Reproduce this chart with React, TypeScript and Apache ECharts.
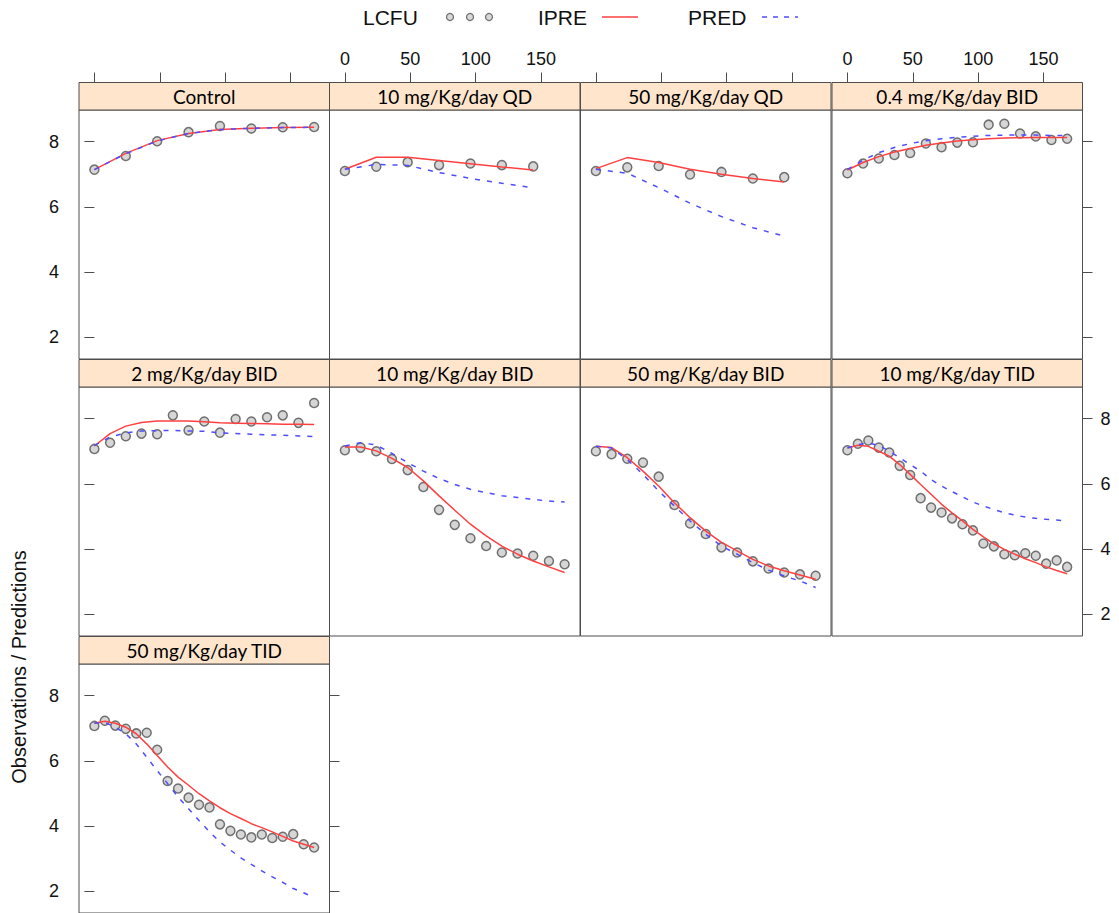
import React, { useEffect, useRef } from "react";
import * as echarts from "echarts";

// ---- data ----
const panelTitles = [
  "Control",
  "10 mg/Kg/day QD",
  "50 mg/Kg/day QD",
  "0.4 mg/Kg/day BID",
  "2 mg/Kg/day BID",
  "10 mg/Kg/day BID",
  "50 mg/Kg/day BID",
  "10 mg/Kg/day TID",
  "50 mg/Kg/day TID",
];

const timeDaily8 = [0, 24, 48, 72, 96, 120, 144, 168];
const timeDaily7 = [0, 24, 48, 72, 96, 120, 144];
const timeBID = [0, 12, 24, 36, 48, 60, 72, 84, 96, 108, 120, 132, 144, 156, 168];
const timeTID = [0, 8, 16, 24, 32, 40, 48, 56, 64, 72, 80, 88, 96, 104, 112, 120, 128, 136, 144, 152, 160, 168];

const xTicks = [0, 50, 100, 150];
const yTicks = [2, 4, 6, 8];

const controlObs = [7.14, 7.56, 8.01, 8.29, 8.48, 8.4, 8.44, 8.45];
const controlIpre = [7.14, 7.64, 8.03, 8.25, 8.37, 8.41, 8.43, 8.44];
const controlPred = [7.14, 7.63, 8.02, 8.25, 8.37, 8.41, 8.43, 8.44];

const qd10Obs = [7.1, 7.23, 7.37, 7.28, 7.33, 7.28, 7.24];
const qd10Ipre = [7.15, 7.52, 7.52, 7.42, 7.32, 7.22, 7.13];
const qd10Pred = [7.15, 7.3, 7.27, 7.05, 6.87, 6.72, 6.58];

const qd50Obs = [7.1, 7.21, 7.25, 6.99, 7.07, 6.87, 6.91];
const qd50Ipre = [7.17, 7.51, 7.36, 7.15, 7.0, 6.87, 6.76];
const qd50Pred = [7.15, 7.03, 6.59, 6.11, 5.7, 5.36, 5.1];

const bid04Obs = [7.03, 7.33, 7.48, 7.59, 7.65, 7.94, 7.83, 7.97, 7.98, 8.52, 8.55, 8.25, 8.16, 8.05, 8.09];
const bid04Ipre = [7.13, 7.36, 7.54, 7.68, 7.79, 7.89, 7.96, 8.02, 8.06, 8.09, 8.11, 8.12, 8.13, 8.13, 8.13];
const bid04Pred = [7.15, 7.43, 7.66, 7.82, 7.94, 8.03, 8.09, 8.13, 8.16, 8.19, 8.2, 8.2, 8.2, 8.19, 8.19];

const bid2Obs = [7.07, 7.26, 7.46, 7.54, 7.52, 8.1, 7.64, 7.91, 7.57, 7.99, 7.91, 8.04, 8.1, 7.87, 8.48];
const bid2Ipre = [7.16, 7.54, 7.77, 7.88, 7.93, 7.93, 7.93, 7.9, 7.87, 7.86, 7.85, 7.84, 7.83, 7.83, 7.82];
const bid2Pred = [7.17, 7.44, 7.56, 7.62, 7.63, 7.64, 7.62, 7.61, 7.56, 7.54, 7.52, 7.5, 7.49, 7.47, 7.45];

const bid10Obs = [7.03, 7.11, 7.0, 6.76, 6.42, 5.9, 5.2, 4.74, 4.33, 4.09, 3.89, 3.86, 3.79, 3.63, 3.53];
const bid10Ipre = [7.13, 7.13, 7.01, 6.78, 6.5, 6.09, 5.63, 5.19, 4.76, 4.4, 4.09, 3.84, 3.63, 3.45, 3.28];
const bid10Pred = [7.16, 7.26, 7.19, 6.93, 6.65, 6.39, 6.16, 5.98, 5.83, 5.73, 5.63, 5.58, 5.52, 5.47, 5.44];

const bid50Obs = [7.0, 6.91, 6.77, 6.65, 6.22, 5.35, 4.78, 4.46, 4.05, 3.89, 3.62, 3.4, 3.28, 3.22, 3.18];
const bid50Ipre = [7.15, 7.11, 6.8, 6.39, 5.93, 5.42, 4.96, 4.55, 4.2, 3.94, 3.68, 3.48, 3.33, 3.2, 3.07];
const bid50Pred = [7.15, 7.1, 6.74, 6.29, 5.78, 5.32, 4.86, 4.45, 4.09, 3.84, 3.58, 3.35, 3.17, 3.02, 2.82];

const tid10Obs = [7.03, 7.23, 7.33, 7.11, 6.96, 6.55, 6.27, 5.56, 5.27, 5.12, 4.94, 4.76, 4.57, 4.17, 4.08, 3.84, 3.81, 3.87, 3.79, 3.55, 3.65, 3.45];
const tid10Ipre = [7.1, 7.18, 7.15, 7.0, 6.85, 6.59, 6.29, 5.98, 5.68, 5.37, 5.11, 4.86, 4.6, 4.37, 4.16, 3.99, 3.84, 3.7, 3.58, 3.45, 3.34, 3.24];
const tid10Pred = [7.1, 7.2, 7.25, 7.18, 7.0, 6.8, 6.59, 6.39, 6.13, 5.93, 5.76, 5.6, 5.44, 5.32, 5.21, 5.11, 5.04, 4.98, 4.94, 4.91, 4.89, 4.86];

const tid50Obs = [7.07, 7.23, 7.08, 6.98, 6.84, 6.86, 6.34, 5.38, 5.15, 4.87, 4.65, 4.57, 4.05, 3.85, 3.74, 3.65, 3.74, 3.63, 3.67, 3.75, 3.44, 3.34];
const tid50Ipre = [7.15, 7.21, 7.15, 7.03, 6.83, 6.52, 6.16, 5.81, 5.5, 5.25, 4.99, 4.77, 4.56, 4.38, 4.23, 4.07, 3.95, 3.82, 3.68, 3.54, 3.44, 3.34];
const tid50Pred = [7.15, 7.18, 7.03, 6.83, 6.52, 6.11, 5.7, 5.3, 4.89, 4.53, 4.17, 3.82, 3.51, 3.26, 3.02, 2.82, 2.62, 2.44, 2.27, 2.08, 1.95, 1.8];

const panelTimes = [timeDaily8, timeDaily7, timeDaily7, timeBID, timeBID, timeBID, timeBID, timeTID, timeTID];
const panelObs = [controlObs, qd10Obs, qd50Obs, bid04Obs, bid2Obs, bid10Obs, bid50Obs, tid10Obs, tid50Obs];
const panelIpre = [controlIpre, qd10Ipre, qd50Ipre, bid04Ipre, bid2Ipre, bid10Ipre, bid50Ipre, tid10Ipre, tid50Ipre];
const panelPred = [controlPred, qd10Pred, qd50Pred, bid04Pred, bid2Pred, bid10Pred, bid50Pred, tid10Pred, tid50Pred];

// ---- layout ----
const X_MIN = -11.76;
const X_MAX = 179.76;
const Y_MIN = 1.33;
const Y_MAX = 8.97;
const COL_LEFT = [79, 329.5, 580.5, 832];
const PANEL_W = 250.5;
const ROW_TOP = [110, 387, 664];
const PANEL_H = 249;
const STRIP_H = 27.5;
const NCOL = 4;

const FRAME = "#4d4d4d";
const TICK_FONT = "'Liberation Sans', Arial, sans-serif";
const STRIP_FONT = "Lato, 'Open Sans', sans-serif";
const RED = "#ff4040";
const BLUE = "#4d4dff";

function zip(xs: number[], ys: number[]) {
  return xs.map((x, i) => [x, ys[i]]);
}

export default function App() {
  const ref = useRef<HTMLDivElement>(null);
  useEffect(() => {
    if (!ref.current) return;
    const chart = echarts.init(ref.current, null, { renderer: "svg" });
    const grids: any[] = [];
    const xAxes: any[] = [];
    const yAxes: any[] = [];
    const series: any[] = [];
    const graphics: any[] = [];
    const n = panelTitles.length;

    panelTitles.forEach((title, i) => {
      const row = Math.floor(i / NCOL);
      const col = i % NCOL;
      const left = COL_LEFT[col];
      const top = ROW_TOP[row];
      const lastInRow = col === NCOL - 1 || i === n - 1;
      grids.push({
        left,
        top,
        width: PANEL_W,
        height: PANEL_H,
        show: true,
        borderColor: FRAME,
        borderWidth: 1,
        backgroundColor: "transparent",
        containLabel: false,
      });
      const isTop = row === 0;
      xAxes.push({
        type: "value",
        gridIndex: i,
        min: X_MIN,
        max: X_MAX,
        show: isTop,
        position: "top",
        offset: STRIP_H,
        axisLine: { show: false },
        splitLine: { show: false },
        axisTick: {
          show: true,
          inside: false,
          length: 10,
          customValues: xTicks,
          lineStyle: { color: FRAME, width: 1 },
        },
        axisLabel: {
          show: col % 2 === 1,
          customValues: xTicks,
          fontSize: 18,
          fontFamily: TICK_FONT,
          color: "#111",
          margin: 15,
        },
      });
      const leftLabels = row % 2 === 0;
      yAxes.push({
        type: "value",
        gridIndex: i,
        min: Y_MIN,
        max: Y_MAX,
        show: col === 0,
        position: "left",
        axisLine: { show: false },
        splitLine: { show: false },
        axisTick: {
          show: true,
          length: 10,
          customValues: yTicks,
          lineStyle: { color: FRAME, width: 1 },
        },
        axisLabel: {
          show: leftLabels,
          customValues: yTicks,
          fontSize: 18,
          fontFamily: TICK_FONT,
          color: "#111",
          margin: 20,
        },
      });
      yAxes.push({
        type: "value",
        gridIndex: i,
        min: Y_MIN,
        max: Y_MAX,
        show: lastInRow,
        position: "right",
        axisLine: { show: false },
        splitLine: { show: false },
        axisTick: {
          show: true,
          length: 10,
          customValues: yTicks,
          lineStyle: { color: FRAME, width: 1 },
        },
        axisLabel: {
          show: !leftLabels,
          customValues: yTicks,
          fontSize: 18,
          fontFamily: TICK_FONT,
          color: "#111",
          margin: 18,
        },
      });

      const t = panelTimes[i];
      series.push({
        name: "LCFU",
        type: "scatter",
        xAxisIndex: i,
        yAxisIndex: i * 2,
        data: zip(t, panelObs[i]),
        symbol: "circle",
        symbolSize: 9,
        itemStyle: {
          color: "rgba(170,170,170,0.6)",
          borderColor: "#505050",
          borderWidth: 1.5,
        },
        z: 2,
      });
      series.push({
        name: "IPRE",
        type: "line",
        xAxisIndex: i,
        yAxisIndex: i * 2,
        data: zip(t, panelIpre[i]),
        showSymbol: false,
        symbol: "none",
        lineStyle: { color: RED, width: 1.5 },
        z: 3,
      });
      series.push({
        name: "PRED",
        type: "line",
        xAxisIndex: i,
        yAxisIndex: i * 2,
        data: zip(t, panelPred[i]),
        showSymbol: false,
        symbol: "none",
        lineStyle: { color: BLUE, width: 1.5, type: [5, 7] },
        z: 3,
      });

      graphics.push({
        type: "rect",
        shape: { x: left, y: top - STRIP_H, width: PANEL_W, height: STRIP_H },
        style: { fill: "#ffe5cc", stroke: FRAME, lineWidth: 1 },
        z: 10,
      });
      graphics.push({
        type: "text",
        x: left + PANEL_W / 2,
        y: top - STRIP_H / 2,
        style: {
          text: title,
          fill: "#000",
          font: `19px ${STRIP_FONT}`,
          align: "center",
          verticalAlign: "middle",
        },
        z: 11,
      });
    });

    // legend (key)
    const ky = 17;
    const keyFont = `21px ${TICK_FONT}`;
    graphics.push({
      type: "text",
      x: 363,
      y: ky,
      style: { text: "LCFU", fill: "#111", font: keyFont, align: "left", verticalAlign: "middle" },
    });
    [450, 470, 489].forEach((cx) => {
      graphics.push({
        type: "circle",
        shape: { cx, cy: ky, r: 3.5 },
        style: { fill: "rgba(190,190,190,0.6)", stroke: "#707070", lineWidth: 1.3 },
      });
    });
    graphics.push({
      type: "text",
      x: 538,
      y: ky,
      style: { text: "IPRE", fill: "#111", font: keyFont, align: "left", verticalAlign: "middle" },
    });
    graphics.push({
      type: "line",
      shape: { x1: 602, y1: ky, x2: 638, y2: ky },
      style: { stroke: RED, lineWidth: 1.5 },
    });
    graphics.push({
      type: "text",
      x: 688,
      y: ky,
      style: { text: "PRED", fill: "#111", font: keyFont, align: "left", verticalAlign: "middle" },
    });
    graphics.push({
      type: "line",
      shape: { x1: 762, y1: ky, x2: 798, y2: ky },
      style: { stroke: BLUE, lineWidth: 1.5, lineDash: [5, 6] },
    });

    // y-axis title
    graphics.push({
      type: "text",
      x: 19,
      y: 667,
      rotation: Math.PI / 2,
      style: {
        text: "Observations / Predictions",
        fill: "#111",
        font: `20px ${TICK_FONT}`,
        align: "center",
        verticalAlign: "middle",
      },
    });

    chart.setOption({
      animation: false,
      backgroundColor: "#fff",
      grid: grids,
      xAxis: xAxes,
      yAxis: yAxes,
      series,
      graphic: graphics,
    });
    return () => chart.dispose();
  }, []);

  return (
    <div
      ref={ref}
      style={{ position: "fixed", left: 0, top: 0, width: 1119, height: 913 }}
    />
  );
}
